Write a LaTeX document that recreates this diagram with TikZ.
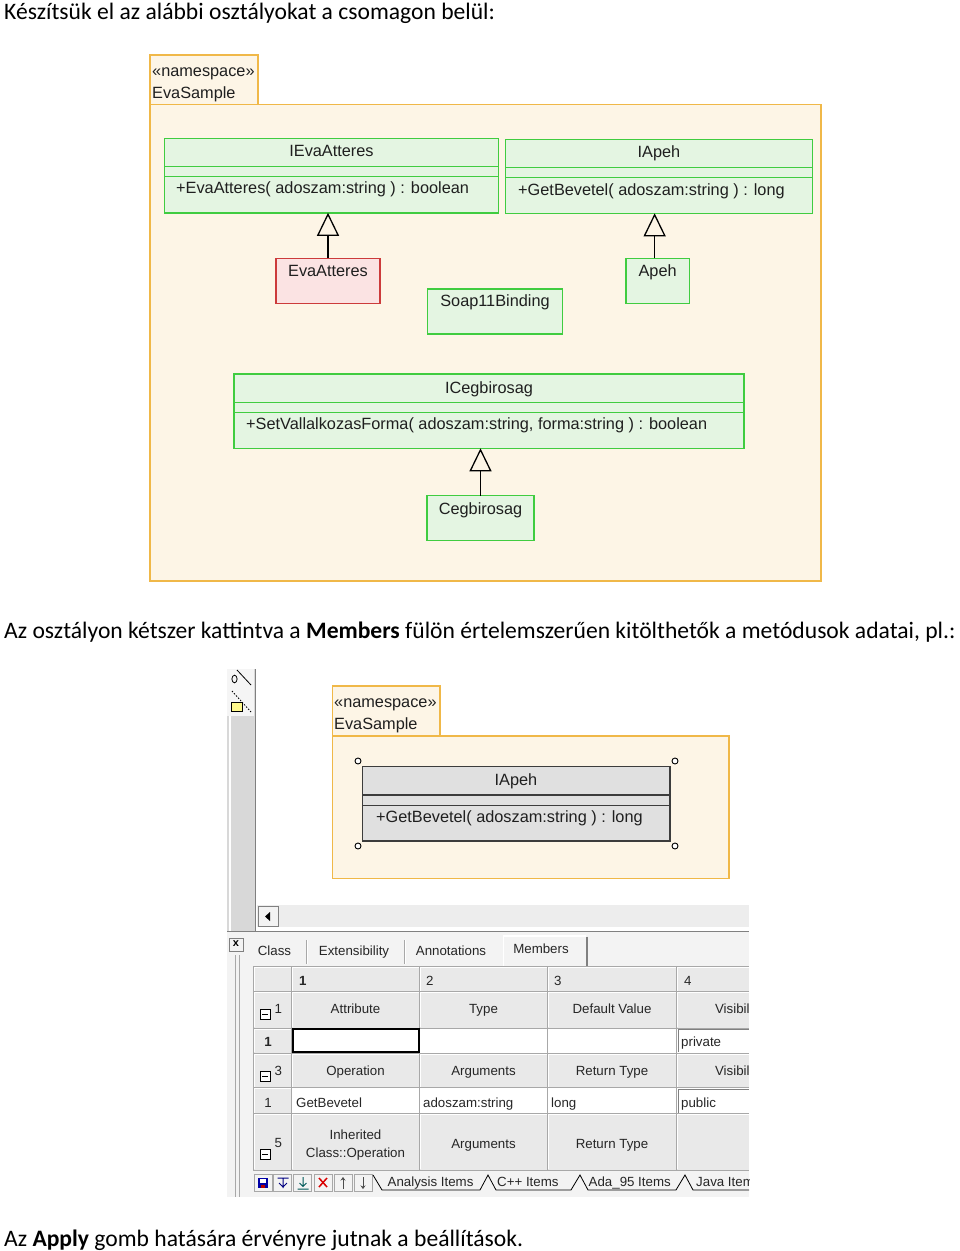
\documentclass[tikz,border=0pt]{standalone}
\usepackage{fontspec}
\setmainfont{Carlito}
\newfontfamily\umlfont{Liberation Sans}
\usetikzlibrary{arrows.meta}
\definecolor{nsfill}{HTML}{FDF5E6}
\definecolor{nsline}{HTML}{F0B848}
\definecolor{gline}{HTML}{40CC40}
\definecolor{gfill}{HTML}{E4F5E2}
\definecolor{rline}{HTML}{CC3B3B}
\definecolor{rfill}{HTML}{FBE3E3}
\definecolor{selfill}{HTML}{E0E0E0}
\definecolor{selline}{HTML}{3C3C3C}
\definecolor{uistrip}{HTML}{D8D8D8}
\definecolor{uipanel}{HTML}{F3F3F3}
\definecolor{uicell}{HTML}{E9E9E9}
\definecolor{uigrid}{HTML}{A8A8A8}
\definecolor{uidark}{HTML}{808080}
\definecolor{scrollbg}{HTML}{EDEDED}
\begin{document}
\begin{tikzpicture}[x=1pt,y=-1pt,
  pkg/.style={draw=nsline,fill=nsfill,line width=1.4pt},
  gbox/.style={draw=gline,fill=gfill,line width=1.4pt,rectangle,inner sep=0pt,outer sep=0pt,anchor=north west},
  rbox/.style={draw=rline,fill=rfill,line width=1.4pt,rectangle,inner sep=0pt,outer sep=0pt,anchor=north west},
  sbox/.style={draw=selline,fill=selfill,line width=1.4pt,rectangle,inner sep=0pt,outer sep=0pt,anchor=north west},
  gsep/.style={draw=gline,line width=1.4pt},
  ssep/.style={draw=selline,line width=1.4pt},
  uml/.style={font=\umlfont\fontsize{16.3}{18}\selectfont,inner sep=0pt,text=black!88},
  body/.style={font=\fontsize{23.6}{28}\selectfont,inner sep=0pt,anchor=base west},
  realize/.style={-{Triangle[open,length=23pt,width=22pt]},line width=1.3pt},
  ui/.style={font=\umlfont\fontsize{13.3}{15}\selectfont,inner sep=0pt,text=black!85},
  handle/.style={circle,draw=black,fill=white,line width=0.9pt,minimum size=6pt,inner sep=0pt},
  minusbox/.style={draw=black,fill=white,line width=0.8pt,rectangle,minimum size=10pt,inner sep=0pt},
  tbtn/.style={draw=uigrid,fill=uipanel,line width=0.6pt},
]
\useasboundingbox[fill=white] (0,0) rectangle (960,1251);

% ---------- body text ----------
\node[body] (t1) at (4,19.5) {Készítsük el az alábbi osztályokat a csomagon belül:};
\node[body] (t2) at (4,638.5) {Az osztályon kétszer kattintva a \textbf{Members} fülön értelemszerűen kitölthetők a metódusok adatai, pl.:};
\node[body] (t3) at (4,1246.5) {Az \textbf{Apply} gomb hatására érvényre jutnak a beállítások.};

% ---------- diagram 1 ----------
\draw[pkg] (150,104.5) rectangle (821,581);
\draw[pkg] (150,55) rectangle (258,104.5);
\node[uml,anchor=base west] (ns1a) at (152,76.5) {«namespace»};
\node[uml,anchor=base west] (ns1b) at (152,98) {EvaSample};

\node[gbox,minimum width=334pt,minimum height=74.5pt] (ieva) at (164.5,138.3) {};
\draw[gsep] ([yshift=-28.4pt]ieva.north west) -- ([yshift=-28.4pt]ieva.north east);
\draw[gsep] ([yshift=-38.4pt]ieva.north west) -- ([yshift=-38.4pt]ieva.north east);
\node[uml,anchor=base] (ieva-n) at (331.5,156) {IEvaAtteres};
\node[uml,anchor=base west] (ieva-o) at (176,193.3) {+EvaAtteres( adoszam:string ) : boolean};

\node[gbox,minimum width=307pt,minimum height=74pt] (iapeh) at (505.5,139.3) {};
\draw[gsep] ([yshift=-28.4pt]iapeh.north west) -- ([yshift=-28.4pt]iapeh.north east);
\draw[gsep] ([yshift=-38.4pt]iapeh.north west) -- ([yshift=-38.4pt]iapeh.north east);
\node[uml,anchor=base] (iapeh-n) at (659,157.5) {IApeh};
\node[uml,anchor=base west] (iapeh-o) at (518,195) {+GetBevetel( adoszam:string ) : long};

\node[rbox,minimum width=104pt,minimum height=45pt] (evaatt) at (276,258.3) {};
\node[uml,anchor=base] (evaatt-n) at (328,276.5) {EvaAtteres};

\node[gbox,minimum width=135pt,minimum height=45pt] (soap) at (427.3,289) {};
\node[uml,anchor=base] (soap-n) at (495,306.5) {Soap11Binding};

\node[gbox,minimum width=63.3pt,minimum height=45pt] (apeh) at (626,258.3) {};
\node[uml,anchor=base] (apeh-n) at (657.6,276) {Apeh};

\node[gbox,minimum width=510pt,minimum height=74.3pt] (iceg) at (234,374) {};
\draw[gsep] ([yshift=-28.3pt]iceg.north west) -- ([yshift=-28.3pt]iceg.north east);
\draw[gsep] ([yshift=-38.3pt]iceg.north west) -- ([yshift=-38.3pt]iceg.north east);
\node[uml,anchor=base] (iceg-n) at (489,393.3) {ICegbirosag};
\node[uml,anchor=base west] (iceg-o) at (246,429.3) {+SetVallalkozasForma( adoszam:string, forma:string ) : boolean};

\node[gbox,minimum width=107pt,minimum height=45pt] (ceg) at (427,495.7) {};
\node[uml,anchor=base] (ceg-n) at (480.5,514) {Cegbirosag};

\draw[realize] (evaatt.north) -- (evaatt.north |- ieva.south);
\draw[realize] ([xshift=-3pt]apeh.north) -- ([xshift=-3pt]apeh.north |- iapeh.south);
\draw[realize] (ceg.north) -- (ceg.north |- iceg.south);

% ---------- screenshot ----------
\begin{scope}
\clip (227,669) rectangle (749,1197);
\fill[white] (256,669) rectangle (749,905);
\fill[uistrip] (227,669) rectangle (256,931);
\fill[black!4] (227,669) rectangle (254,716);
\draw[white,line width=2pt] (229.5,716) -- (229.5,931);
\draw[uidark,line width=1.6pt] (255.5,669) -- (255.5,931);
% toolbox icons
\draw[line width=0.8pt] (234.5,679) ellipse (2.6pt and 3.8pt);
\draw[line width=0.8pt] (237,670) -- (251,685);
\draw[line width=0.8pt,dash pattern=on 1.5pt off 1.5pt] (232,691) -- (251,712);
\draw[line width=0.7pt,fill=yellow!45] (231.5,702) rectangle (242,711);

% package 2
\draw[pkg] (332.5,736) rectangle (729,878.3);
\draw[pkg] (332.5,686) rectangle (440,736);
\node[uml,anchor=base west] (ns2a) at (334,707) {«namespace»};
\node[uml,anchor=base west] (ns2b) at (334,729) {EvaSample};

\node[sbox,minimum width=307.5pt,minimum height=74.3pt] (iapeh2) at (362.5,766.7) {};
\draw[ssep] ([yshift=-28.3pt]iapeh2.north west) -- ([yshift=-28.3pt]iapeh2.north east);
\draw[ssep] ([yshift=-38.6pt]iapeh2.north west) -- ([yshift=-38.6pt]iapeh2.north east);
\node[uml,anchor=base] (iapeh2-n) at (516,785) {IApeh};
\node[uml,anchor=base west] (iapeh2-o) at (376,822.4) {+GetBevetel( adoszam:string ) : long};
\node[handle] (hnw) at (358,761) {};
\node[handle] (hne) at (675,761) {};
\node[handle] (hsw) at (358,846) {};
\node[handle] (hse) at (675,846) {};

% scrollbar
\fill[scrollbg] (257,905) rectangle (749,927);
\draw[uidark,fill=uipanel] (258.5,906.5) rectangle (278.5,926.5);
\fill (265,916.5) -- (270,912) -- (270,921) -- cycle;
\draw[uidark,line width=1.2pt] (227,931.5) -- (749,931.5);

% panel
\fill[uipanel] (227,932.2) rectangle (749,1197);
\draw[uidark,fill=uipanel] (229,938) rectangle (243,951);
\node[font=\umlfont\bfseries\fontsize{11}{12}\selectfont,inner sep=0pt] (closex) at (236,944) {x};
\draw[uigrid] (235,955) -- (235,1197);
\draw[uigrid] (239,955) -- (239,1197);

% tabs
\draw[uigrid] (306.5,940) -- (306.5,964);
\draw[white] (307.5,940) -- (307.5,964);
\draw[uigrid] (404,940) -- (404,964);
\draw[white] (405,940) -- (405,964);
\draw[white,line width=1.2pt] (503.5,966) -- (503.5,936) -- (586,936);
\draw[uidark,line width=1.2pt] (587,936.5) -- (587,966);
\node[ui,anchor=base] (tabclass) at (274.5,955) {Class};
\node[ui,anchor=base] (tabext) at (354,955) {Extensibility};
\node[ui,anchor=base] (tabann) at (451,955) {Annotations};
\node[ui,anchor=base] (tabmem) at (541,953) {Members};

% grid fills
\fill[uicell] (253,966) rectangle (749,991.5);
\fill[uicell] (253,991.5) rectangle (749,1028);
\fill[white] (291.5,1028) rectangle (749,1053);
\fill[uicell] (253,1053) rectangle (749,1087.5);
\fill[white] (291.5,1087.5) rectangle (749,1113.5);
\fill[uicell] (253,1113.5) rectangle (749,1170);
\fill[uicell] (253,1028) rectangle (291.5,1053);
\fill[uicell] (253,1087.5) rectangle (291.5,1113.5);
% 3D highlights
\foreach \ya/\yb in {966/991.5,991.5/1028,1053/1087.5,1113.5/1170}{
  \foreach \xa/\xb in {291.5/419.5,419.5/547.5,547.5/676.5,676.5/800}{
    \draw[white,line width=1pt] (\xa+1.2,\yb-1) -- (\xa+1.2,\ya+1.2) -- (\xb-1,\ya+1.2);
  }
  \draw[white,line width=1pt] (254.2,\yb-1) -- (254.2,\ya+1.2) -- (290.5,\ya+1.2);
}
\draw[white,line width=1pt] (254.2,1052) -- (254.2,1029.2) -- (290.5,1029.2);
\draw[white,line width=1pt] (254.2,1112.5) -- (254.2,1088.7) -- (290.5,1088.7);
% grid lines
\foreach \y in {966,991.5,1028,1053,1087.5,1113.5,1170}{
  \draw[uigrid,line width=0.9pt] (253,\y) -- (749,\y);
}
\foreach \x in {253,291.5,419.5,547.5,676.5}{
  \draw[uigrid,line width=0.9pt] (\x,966) -- (\x,1170);
}
\draw[line width=2pt] (292.5,1029) rectangle (418.5,1052.2);
\draw[uidark] (678.5,1052) -- (678.5,1029.5) -- (749,1029.5);
\draw[uidark] (678.5,1112.5) -- (678.5,1089) -- (749,1089);

% column numbers
\node[ui,anchor=base west,font=\umlfont\bfseries\fontsize{13.3}{15}\selectfont] (c1) at (299,985) {1};
\node[ui,anchor=base west] (c2) at (426,985) {2};
\node[ui,anchor=base west] (c3) at (554,985) {3};
\node[ui,anchor=base west] (c4) at (684,985) {4};

% row headers
\node[minusbox] (m1) at (265,1014) {};
\draw[line width=1pt] (262,1014) -- (268,1014);
\node[ui,anchor=base west] (r1) at (274.5,1013) {1};
\node[ui,anchor=base,font=\umlfont\bfseries\fontsize{13.3}{15}\selectfont] (r2) at (268,1046) {1};
\node[minusbox] (m3) at (265,1076) {};
\draw[line width=1pt] (262,1076) -- (268,1076);
\node[ui,anchor=base west] (r3) at (274.5,1075) {3};
\node[ui,anchor=base] (r4) at (268,1107) {1};
\node[minusbox] (m5) at (265,1154) {};
\draw[line width=1pt] (262,1154) -- (268,1154);
\node[ui,anchor=base west] (r5) at (274.5,1147) {5};

% section 1
\node[ui,anchor=base] (a1) at (355.5,1013) {Attribute};
\node[ui,anchor=base] (a2) at (483.5,1013) {Type};
\node[ui,anchor=base] (a3) at (612,1013) {Default Value};
\node[ui,anchor=base] (a4) at (739,1013) {Visibility};
\node[ui,anchor=base west] (a5) at (681,1046) {private};
% section 3
\node[ui,anchor=base] (o1) at (355.5,1075) {Operation};
\node[ui,anchor=base] (o2) at (483.5,1075) {Arguments};
\node[ui,anchor=base] (o3) at (612,1075) {Return Type};
\node[ui,anchor=base] (o4) at (739,1075) {Visibility};
\node[ui,anchor=base west] (d1) at (296,1107) {GetBevetel};
\node[ui,anchor=base west] (d2) at (423,1107) {adoszam:string};
\node[ui,anchor=base west] (d3) at (551,1107) {long};
\node[ui,anchor=base west] (d4) at (681,1107) {public};
% section 5
\node[ui,anchor=base] (i1) at (355.5,1139) {Inherited};
\node[ui,anchor=base] (i1b) at (355.5,1157) {Class::Operation};
\node[ui,anchor=base] (i2) at (483.5,1148) {Arguments};
\node[ui,anchor=base] (i3) at (612,1148) {Return Type};

% bottom toolbar
\foreach \xa in {254,273.5,293.5,314,334,354}{
  \draw[tbtn] (\xa,1174) rectangle (\xa+18,1191);
}
\fill[blue!65!black] (258,1178) rectangle (268,1188);
\fill[white] (260,1179) rectangle (266,1182.5);
\fill[red!70!black] (261,1185) rectangle (265,1188);
\draw[blue!50!black,line width=1pt] (277.5,1178) -- (288.5,1178) (283,1178) -- (283,1188) (279,1183) -- (283,1187) -- (287,1183);
\draw[teal!70!black,line width=1pt] (297.5,1189) -- (308.5,1189) (303,1177) -- (303,1186) (299.5,1183) -- (303,1186.5) -- (306.5,1183);
\draw[red!85!black,line width=1.5pt] (319,1178) -- (327,1187) (319,1187) -- (327,1178);
\draw[uidark!60!black,line width=0.9pt,-{Stealth[length=3.5pt,width=5pt]}] (343,1189) -- (343,1177);
\draw[uidark!60!black,line width=0.9pt,-{Stealth[length=3.5pt,width=5pt]}] (363,1177) -- (363,1189);
\draw[line width=0.8pt] (373,1175) -- (382,1190) -- (480,1190) -- (488,1175) -- (496,1190) -- (571,1190) -- (580,1175) -- (588,1190) -- (676,1190) -- (685,1175) -- (693,1190) -- (760,1190);
\node[ui,anchor=base west] (b1) at (387.5,1186) {Analysis Items};
\node[ui,anchor=base west] (b2) at (497,1186) {C++ Items};
\node[ui,anchor=base west] (b3) at (588.5,1186) {Ada\_95 Items};
\node[ui,anchor=base west] (b4) at (696,1186) {Java Items};
\end{scope}
\end{tikzpicture}
\end{document}
